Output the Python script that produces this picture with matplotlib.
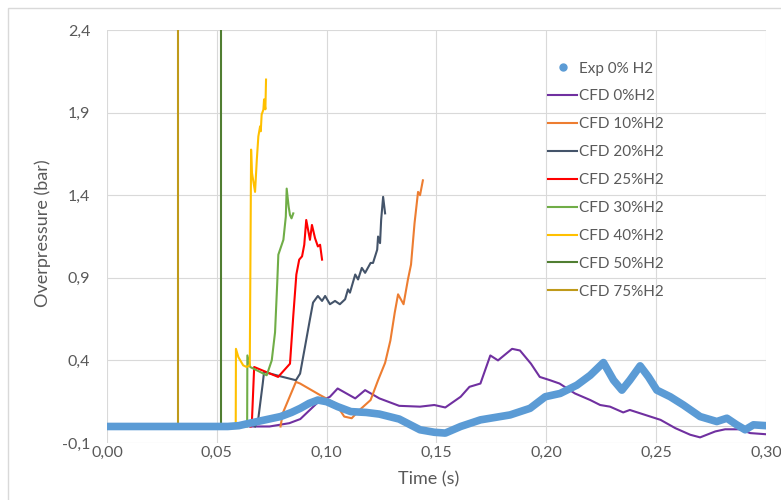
import numpy as np
import matplotlib
matplotlib.use('Agg')
import matplotlib.pyplot as plt
from matplotlib.lines import Line2D
from matplotlib.patches import Rectangle
from matplotlib.ticker import FixedLocator, FuncFormatter

plt.rcParams['font.family'] = ['Lato', 'DejaVu Sans']

### Data (time in s, overpressure in bar)
exp_t = [0.000, 0.020, 0.040, 0.055, 0.060, 0.065, 0.072, 0.079, 0.084, 0.088,
         0.092, 0.096, 0.100, 0.105, 0.111, 0.118, 0.124, 0.133, 0.1425, 0.149,
         0.154, 0.161, 0.170, 0.1835, 0.1926, 0.1995, 0.2063, 0.2139, 0.220, 0.226,
         0.2306, 0.2344, 0.238, 0.2427, 0.2465, 0.2503, 0.2564, 0.2624, 0.270, 0.2776,
         0.2822, 0.2867, 0.2905, 0.2943, 0.300]
exp_p = [0.0, 0.0, 0.0, 0.0, 0.005, 0.02, 0.04, 0.06, 0.085, 0.11,
         0.14, 0.16, 0.15, 0.12, 0.09, 0.085, 0.075, 0.045, -0.02, -0.035,
         -0.04, 0.0, 0.04, 0.07, 0.11, 0.18, 0.20, 0.25, 0.31, 0.387,
         0.28, 0.22, 0.28, 0.367, 0.30, 0.22, 0.18, 0.13, 0.06, 0.03,
         0.05, 0.01, -0.02, 0.01, 0.005]

cfd0_t = [0.065, 0.074, 0.083, 0.088, 0.0955, 0.1015, 0.105, 0.113, 0.1175, 0.124,
          0.133, 0.1425, 0.149, 0.154, 0.161, 0.165, 0.170, 0.1745, 0.178, 0.1844,
          0.188, 0.193, 0.197, 0.2017, 0.206, 0.213, 0.220, 0.2245, 0.229, 0.235,
          0.238, 0.245, 0.252, 0.2587, 0.2655, 0.270, 0.2769, 0.2814, 0.288, 0.2928,
          0.300]
cfd0_p = [0.0, 0.0, 0.02, 0.045, 0.14, 0.18, 0.23, 0.17, 0.22, 0.17,
          0.125, 0.12, 0.13, 0.115, 0.18, 0.24, 0.26, 0.43, 0.40, 0.47,
          0.46, 0.38, 0.30, 0.28, 0.26, 0.20, 0.16, 0.13, 0.12, 0.085,
          0.10, 0.07, 0.04, -0.01, -0.05, -0.066, -0.03, -0.017, -0.017, -0.04,
          -0.047]

cfd10_t = [0.079, 0.080, 0.086, 0.0879, 0.097, 0.104, 0.108, 0.1114, 0.115, 0.120,
           0.1234, 0.1266, 0.129, 0.131, 0.1325, 0.135, 0.137, 0.1384, 0.140, 0.1416,
           0.1425, 0.1438]
cfd10_p = [0.0, 0.08, 0.27, 0.26, 0.19, 0.14, 0.06, 0.05, 0.10, 0.16,
           0.28, 0.385, 0.52, 0.69, 0.80, 0.74, 0.89, 0.98, 1.23, 1.42,
           1.40, 1.49]

cfd20_t = [0.0674, 0.0688, 0.0709, 0.0715, 0.080, 0.0860, 0.0879, 0.0901, 0.0924, 0.0938,
           0.096, 0.0979, 0.0993, 0.1015, 0.1038, 0.106, 0.1084, 0.1097, 0.1106, 0.113,
           0.1143, 0.116, 0.1175, 0.120, 0.1211, 0.123, 0.1234, 0.1243, 0.1248, 0.1257,
           0.1266]
cfd20_p = [0.0, 0.04, 0.26, 0.33, 0.30, 0.28, 0.32, 0.48, 0.65, 0.75,
           0.79, 0.76, 0.79, 0.74, 0.76, 0.74, 0.77, 0.83, 0.81, 0.92,
           0.89, 0.96, 0.93, 0.99, 0.99, 1.07, 1.15, 1.11, 1.25, 1.39,
           1.29]

cfd25_t = [0.0654, 0.0660, 0.067, 0.0779, 0.0833, 0.0848, 0.0862, 0.0875, 0.0888, 0.0898,
           0.0907, 0.0924, 0.0933, 0.0947, 0.096, 0.0970, 0.0979]
cfd25_p = [0.0, 0.04, 0.36, 0.30, 0.38, 0.67, 0.92, 1.01, 1.03, 1.10,
           1.25, 1.13, 1.22, 1.14, 1.09, 1.10, 1.01]

cfd30_t = [0.0638, 0.0639, 0.0652, 0.0727, 0.0750, 0.0765, 0.0775, 0.0780, 0.0803, 0.0814,
           0.0818, 0.0827, 0.0833, 0.0840, 0.0848]
cfd30_p = [0.0, 0.43, 0.36, 0.31, 0.40, 0.57, 0.87, 1.04, 1.13, 1.27,
           1.44, 1.33, 1.28, 1.26, 1.29]

cfd40_t = [0.0586, 0.0587, 0.0598, 0.0620, 0.0636, 0.0650, 0.0656, 0.0660, 0.0674, 0.0682,
           0.0689, 0.0697, 0.0700, 0.0704, 0.0712, 0.0715, 0.0721, 0.0724]
cfd40_p = [0.0, 0.47, 0.42, 0.37, 0.36, 0.37, 1.676, 1.535, 1.42, 1.615,
           1.756, 1.817, 1.787, 1.888, 1.918, 1.98, 1.92, 2.10]

cfd50_t = [0.0518, 0.0518]
cfd50_p = [0.0, 2.4]

cfd75_t = [0.0322, 0.0322]
cfd75_p = [0.0, 2.4]

x_ticks = [0.00, 0.05, 0.10, 0.15, 0.20, 0.25, 0.30]
y_ticks = [-0.1, 0.4, 0.9, 1.4, 1.9, 2.4]

cfd_series = [
    ('CFD 0%H2', cfd0_t, cfd0_p, '#7030A0'),
    ('CFD 10%H2', cfd10_t, cfd10_p, '#ED7D31'),
    ('CFD 20%H2', cfd20_t, cfd20_p, '#44546A'),
    ('CFD 25%H2', cfd25_t, cfd25_p, '#FF0000'),
    ('CFD 30%H2', cfd30_t, cfd30_p, '#70AD47'),
    ('CFD 40%H2', cfd40_t, cfd40_p, '#FFC000'),
    ('CFD 50%H2', cfd50_t, cfd50_p, '#507E32'),
    ('CFD 75%H2', cfd75_t, cfd75_p, '#BF9A1A'),
]


def main():
    fig = plt.figure(figsize=(7.81, 5.0), dpi=100)
    W, H = 781., 500.

    ### chart area border (Excel style)
    fig.patches.append(Rectangle((8/W, -0.2), 1.2, 1.2-8/H, transform=fig.transFigure,
                                 fill=False, edgecolor='#D9D9D9', lw=1.0))

    ax = fig.add_axes([107/W, 1-443/H, (766-107)/W, (443-30)/H])
    for s in ax.spines.values():
        s.set_visible(False)

    ax.set_xlim(0, 0.30)
    ax.set_ylim(-0.1, 2.4)
    ax.xaxis.set_major_locator(FixedLocator(x_ticks))
    ax.yaxis.set_major_locator(FixedLocator(y_ticks))
    ax.xaxis.set_major_formatter(FuncFormatter(lambda v, p: '{:.2f}'.format(v).replace('.', ',')))
    ax.yaxis.set_major_formatter(FuncFormatter(lambda v, p: '{:.1f}'.format(v).replace('.', ',')))
    ax.tick_params(axis='both', length=0, labelsize=11.5, labelcolor='#595959')
    ax.tick_params(axis='x', pad=2)
    ax.tick_params(axis='y', pad=12)
    ax.grid(True, color='#D9D9D9', lw=0.8)
    ax.set_axisbelow(True)
    ax.axhline(0, color='#D0D0D0', lw=0.8, zorder=0.5)

    handles = [Line2D([], [], ls='none', marker='o', ms=5, color='#5B9BD5')]
    labels = ['Exp 0% H2']
    for name, t, p, c in cfd_series:
        ax.plot(t, p, color=c, lw=1.5, zorder=2)
        handles.append(Line2D([], [], color=c, lw=1.5))
        labels.append(name)

    ax.plot(exp_t, exp_p, color='#5B9BD5', lw=5.5, solid_capstyle='round',
            solid_joinstyle='round', zorder=3)

    ax.set_xlabel('Time (s)', fontsize=13, color='#595959', va='center')
    ax.set_ylabel('Overpressure (bar)', fontsize=13, color='#595959', va='center')
    ax.xaxis.set_label_coords((429-107)/659., (443-479)/413.)
    ax.yaxis.set_label_coords((43-107)/659., (443-233.5)/413.)

    fig.legend(handles, labels, loc='upper left', bbox_to_anchor=(548/W, 1-61.5/H),
               frameon=False, fontsize=11, handlelength=1.9, handletextpad=0.13,
               labelspacing=0.91, borderpad=0, borderaxespad=0, labelcolor='#595959')

    fig.savefig('out.png', dpi=100)
    return


if __name__ == '__main__':
    main()
